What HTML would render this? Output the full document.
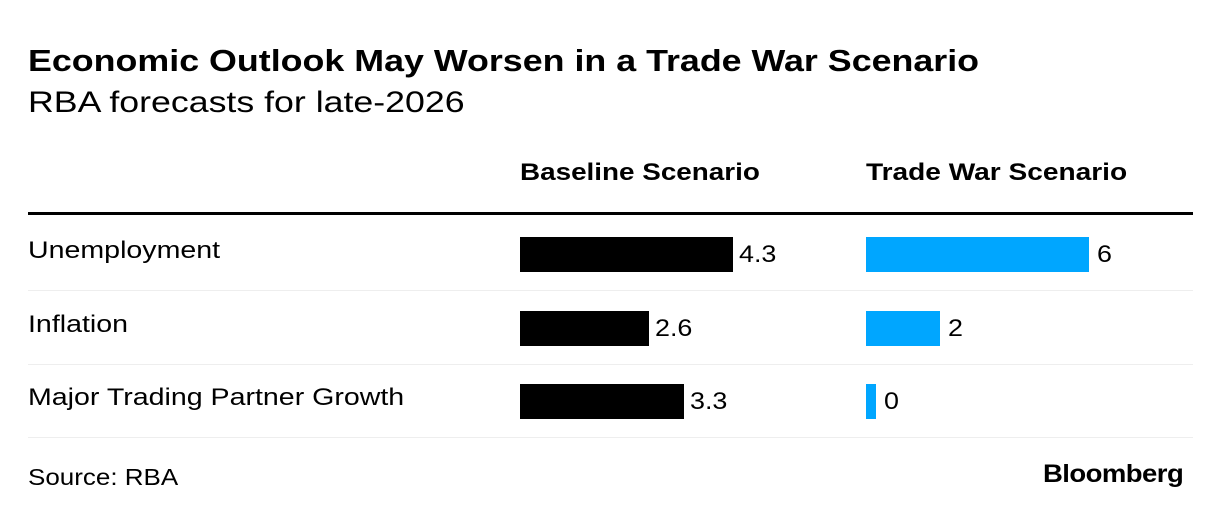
<!DOCTYPE html>
<html><head><meta charset="utf-8"><style>
body{margin:0;width:1221px;height:518px;background:#fff;font-family:"Liberation Sans",sans-serif;position:relative;overflow:hidden}
.a{position:absolute;white-space:nowrap;transform-origin:0 0}
</style></head><body>
<div class="a" style="left:28px;top:43px;font-size:31px;font-weight:bold;color:#000;transform:scaleX(1.155)">Economic Outlook May Worsen in a Trade War Scenario</div>
<div class="a" style="left:28px;top:86px;font-size:30px;color:#000;transform:scaleX(1.19)">RBA forecasts for late-2026</div>
<div class="a" style="left:520px;top:159px;font-size:24px;font-weight:bold;transform:scaleX(1.16)">Baseline Scenario</div>
<div class="a" style="left:866px;top:159px;font-size:24px;font-weight:bold;transform:scaleX(1.17)">Trade War Scenario</div>
<div class="a" style="left:28px;top:212px;width:1165px;height:3px;background:#000"></div>
<div id="rows"></div>
<div class="a" style="left:28px;top:464px;font-size:23px;transform:scaleX(1.13)">Source: RBA</div>
<div class="a" style="left:1043px;top:460px;font-size:25px;font-weight:bold;letter-spacing:-0.5px;transform:scaleX(1.1)">Bloomberg</div>
<script>
const categories=["Unemployment","Inflation","Major Trading Partner Growth"];
const baseline=[4.3,2.6,3.3];
const tradeWar=[6,2,0];
const root=document.getElementById('rows');
const bx=v=>v*49.6, tx=v=>Math.max(10,v*37.2);
categories.forEach((c,i)=>{
  const top=237+i*73.5;
  const l=document.createElement('div');l.className='a';
  
  
  l.style.cssText=`left:28px;top:${top}px;font-size:24px;transform:scaleX(1.19)`;l.textContent=c;root.appendChild(l);
  const b=document.createElement('div');b.className='a';
  
  
  const w=bx(baseline[i]);
  b.style.cssText=`left:520px;top:${top}px;width:${w}px;height:35px;background:#000`;root.appendChild(b);
  const bv=document.createElement('div');bv.className='a';
  
  
  bv.style.cssText=`left:${526+w}px;top:${top+4}px;font-size:24px;transform:scaleX(1.12)`;bv.textContent=baseline[i];root.appendChild(bv);
  const t=document.createElement('div');t.className='a';
  
  
  const w2=tx(tradeWar[i]);
  t.style.cssText=`left:866px;top:${top}px;width:${w2}px;height:35px;background:#00a6ff`;root.appendChild(t);
  const tv=document.createElement('div');tv.className='a';
  
  
  tv.style.cssText=`left:${874+w2}px;top:${top+4}px;font-size:24px;transform:scaleX(1.12)`;tv.textContent=tradeWar[i];root.appendChild(tv);
  const s=document.createElement('div');s.className='a';
  
  
  s.style.cssText=`left:28px;top:${top+53}px;width:1165px;height:1px;background:#eee`;root.appendChild(s);
});
</script>
</body></html>
